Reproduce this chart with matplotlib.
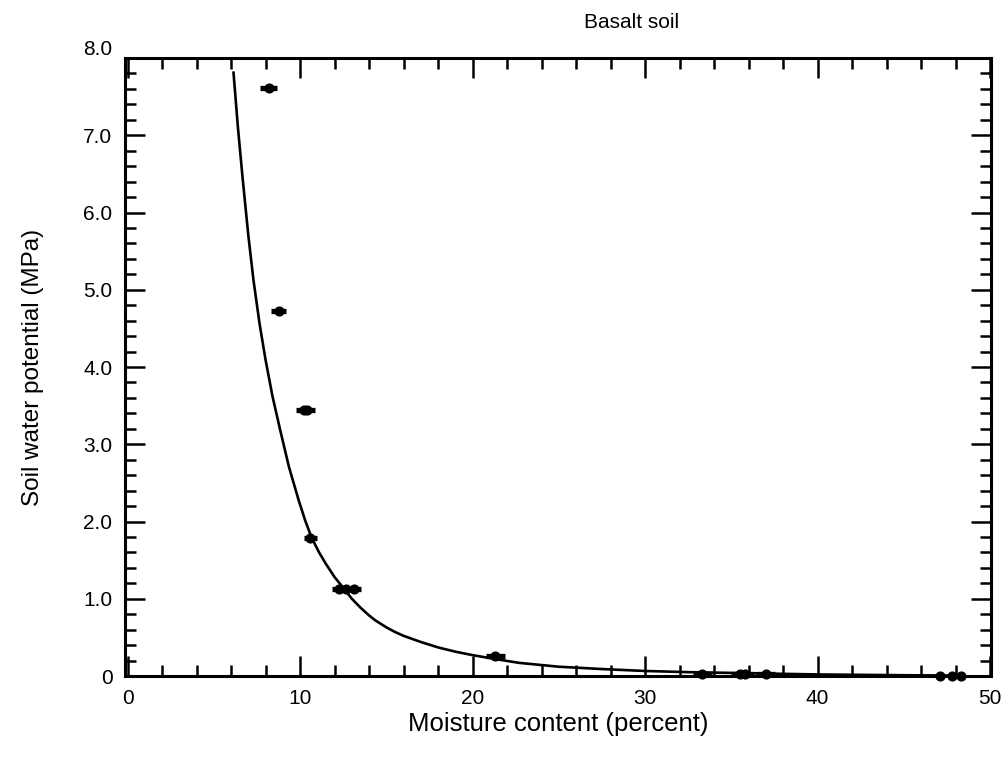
import matplotlib
matplotlib.use("Agg")
import matplotlib.pyplot as plt
from matplotlib.ticker import MultipleLocator, FixedLocator, FixedFormatter
from matplotlib.transforms import ScaledTranslation

plt.rcParams['font.family'] = ['Liberation Sans', 'DejaVu Sans']

# measured points (moisture %, potential MPa, x error)
moisture = [8.17, 8.75, 10.2, 10.4, 10.6, 12.25, 12.65, 13.15, 21.3,
            33.3, 35.5, 35.8, 37.0, 47.1, 47.8, 48.3]
potential = [7.61, 4.72, 3.44, 3.44, 1.79, 1.12, 1.12, 1.12, 0.26,
             0.03, 0.02, 0.02, 0.02, 0.005, 0.005, 0.005]
moisture_err = [0.5, 0.45, 0.45, 0.45, 0.4, 0.4, 0.4, 0.4, 0.55,
                0.55, 0.5, 0.5, 0.55, 0.0, 0.0, 0.0]

# fitted retention curve
curve_x = [6.14, 6.4, 6.67, 7.0, 7.3, 7.65, 8.0, 8.4, 8.85, 9.35, 9.91,
           10.3, 10.67, 11.1, 11.5, 12.0, 12.58, 13.0, 13.5, 14.0, 14.36,
           15.0, 15.5, 16.0, 17.0, 18.0, 19.0, 20.0, 21.3, 22.7, 25.0,
           27.5, 30.0, 32.5, 35.0, 40.0, 45.0, 48.5]
curve_y = [7.81, 7.09, 6.44, 5.70, 5.12, 4.56, 4.09, 3.62, 3.18, 2.71, 2.28,
           2.01, 1.79, 1.60, 1.45, 1.28, 1.12, 1.00, 0.885, 0.784, 0.72,
           0.63, 0.57, 0.52, 0.44, 0.37, 0.315, 0.27, 0.22, 0.17, 0.12,
           0.09, 0.065, 0.05, 0.04, 0.02, 0.01, 0.005]

x_ticks = [0, 10, 20, 30, 40, 50]
y_ticks = [0, 1, 2, 3, 4, 5, 6, 7, 8]
y_tick_labels = ["0", "1.0", "2.0", "3.0", "4.0", "5.0", "6.0", "7.0", "8.0"]

fig = plt.figure(figsize=(10.06, 7.59), dpi=100)
ax = fig.add_axes([125/1006, 1 - 676/759, (991 - 125)/1006, (676 - 58)/759])

ax.plot(curve_x, curve_y, color="black", linewidth=1.9)
ax.errorbar(moisture, potential, xerr=moisture_err, fmt="o", color="black",
            markersize=6.3, elinewidth=3.8, capsize=0, clip_on=False, zorder=3)

ax.set_xlim(-0.15, 50.05)
ax.set_ylim(0, 8)

ax.xaxis.set_major_locator(FixedLocator(x_ticks))
ax.xaxis.set_minor_locator(MultipleLocator(2))
ax.yaxis.set_major_locator(FixedLocator(y_ticks))
ax.yaxis.set_major_formatter(FixedFormatter(y_tick_labels))
ax.yaxis.set_minor_locator(MultipleLocator(0.2))

ax.tick_params(which="both", direction="in", top=True, right=True,
               labelsize=15, width=1.8, pad=9)
ax.tick_params(which="major", length=14.5)
ax.tick_params(which="minor", length=8)
for s in ax.spines.values():
    s.set_linewidth(2.2)

# the 8.0 label sits a bit above the frame in the original
fig.canvas.draw()
top_label = ax.get_yticklabels()[-1]
top_label.set_transform(top_label.get_transform() +
                        ScaledTranslation(0, 0.11, fig.dpi_scale_trans))

ax.set_xlabel("Moisture content (percent)", fontsize=18.5, labelpad=3)
ax.set_ylabel("Soil water potential (MPa)", fontsize=17.5, labelpad=28)
fig.text(632/1006, 1 - 22/759, "Basalt soil", fontsize=15,
         ha="center", va="center")

fig.savefig("out.png", dpi=100)
